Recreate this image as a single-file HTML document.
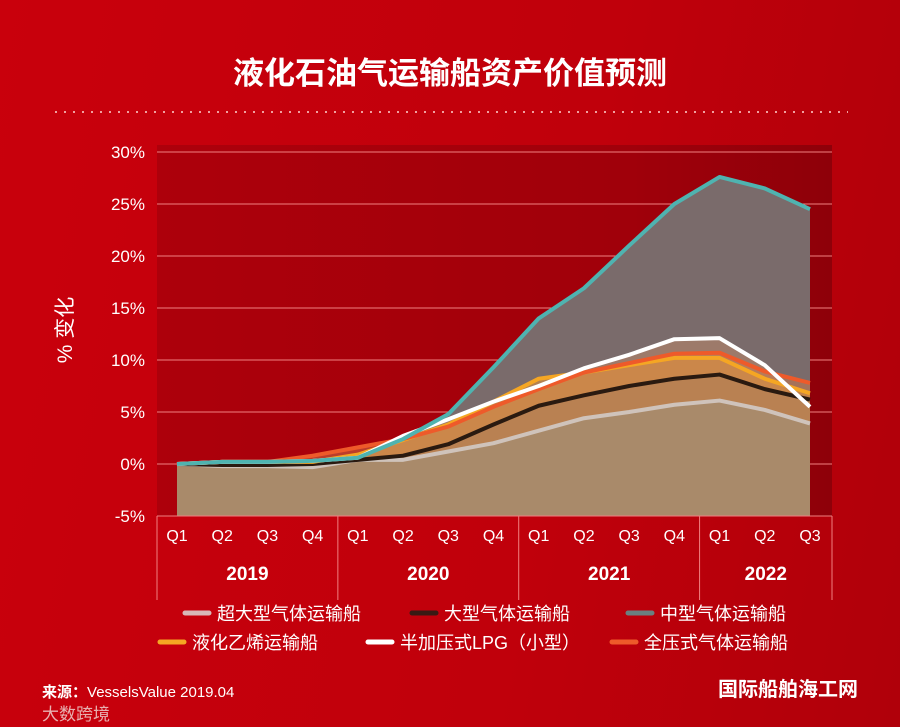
<!DOCTYPE html>
<html><head><meta charset="utf-8"><style>
body{margin:0;width:900px;height:727px;overflow:hidden;background:linear-gradient(100deg,#c9000c 0%,#c0000b 60%,#b0000a 100%);font-family:"Liberation Sans","Noto Sans CJK SC",sans-serif;color:#fff}
</style></head><body>
<svg width="900" height="727" style="position:absolute;left:0;top:0">
<defs><linearGradient id="pbg" x1="0" x2="1"><stop offset="0" stop-color="#ad000b"/><stop offset="0.7" stop-color="#a0000a"/><stop offset="1" stop-color="#8e0009"/></linearGradient></defs>
<text x="450" y="84" text-anchor="middle" font-size="31" font-weight="bold" fill="#fff">液化石油气运输船资产价值预测</text>
<line x1="55" y1="112" x2="848" y2="112" stroke="#f0a0a0" stroke-width="2" stroke-dasharray="2,7"/>
<rect x="157" y="145" width="675" height="371" fill="url(#pbg)"/>
<g id="grid"></g><g id="areas"></g><g id="lines"></g><g id="xaxis"></g>
<text transform="translate(72,330) rotate(-90)" text-anchor="middle" font-size="21" fill="#fff">% 变化</text>
<g id="legend"></g>
<text x="42" y="697" font-size="15" fill="#fff"><tspan font-weight="bold">来源：</tspan>VesselsValue 2019.04</text>
<text x="42" y="720" font-size="17" fill="#e8b0b0">大数跨境</text>
<text x="718" y="696" font-size="20" font-weight="bold" fill="#fff">国际船舶海工网</text>
</svg>
<script>
const quarters=['Q1','Q2','Q3','Q4','Q1','Q2','Q3','Q4','Q1','Q2','Q3','Q4','Q1','Q2','Q3'];
const years=['2019','2020','2021','2022'];
const yTicks=[-5,0,5,10,15,20,25,30];
const vlgc=[0,-0.2,-0.2,-0.3,0.4,0.4,1.2,2,3.2,4.4,5,5.7,6.1,5.2,3.9];
const lgc=[0,-0.1,-0.1,0,0.4,0.8,1.9,3.8,5.6,6.6,7.5,8.2,8.6,7.2,6.2];
const mgc=[0,0.2,0.2,0.3,0.6,2.4,4.8,9.3,14,16.9,21,25,27.6,26.5,24.5];
const ethylene=[0,0.2,0.2,0.2,0.9,2.3,3.8,6,8.2,8.8,9.5,10.2,10.2,8.2,6.8];
const semiref=[0,0.2,0.2,0.3,0.6,2.7,4.3,6,7.5,9.2,10.5,12,12.1,9.5,5.5];
const fullyPress=[0,0.2,0.2,0.8,1.6,2.4,3.6,5.5,7.2,8.8,9.7,10.6,10.7,8.9,7.8];
const NS='http://www.w3.org/2000/svg';
const x=i=>177+i*(810-177)/14;
const y=v=>464-v*10.4;
function mk(t,a,p){const e=document.createElementNS(NS,t);for(const k in a)e.setAttribute(k,a[k]);p.appendChild(e);return e;}
const grid=document.getElementById('grid');
yTicks.forEach(t=>{
 const l=mk('line',{x1:157,x2:832,y1:y(t),y2:y(t),stroke:'#f08080','stroke-width':1},grid);
 
 
 const tx=mk('text',{x:145,y:y(t)+6,'text-anchor':'end','font-size':17,fill:'#fff'},grid);
 tx.textContent=t+'%';
 
 
});
const series=[
 {d:mgc,c:'#4fb3b0',f:'#7a6b6b',fo:1,n:'mgc'},
 {d:semiref,c:'#ffffff',f:'#c08a6a',fo:0.5,n:'semiref'},
 {d:fullyPress,c:'#ee5a2a',f:'#d07a4a',fo:0.5,n:'fully-pressurized'},
 {d:ethylene,c:'#f5a623',f:'#d99040',fo:0.6,n:'ethylene'},
 {d:lgc,c:'#2a1a10',f:'#b07f55',fo:0.7,n:'lgc'},
 {d:vlgc,c:'#cfc3bb',f:'#a98a6a',fo:1,n:'vlgc'}];
const areas=document.getElementById('areas'),lines=document.getElementById('lines');
series.forEach(s=>{
 let pts=s.d.map((v,i)=>x(i)+','+y(v)).join(' ');
 const a=mk('polygon',{points:x(0)+','+y(-5)+' '+pts+' '+x(14)+','+y(-5),fill:s.f,'fill-opacity':s.fo},areas);
 
 
});
series.slice().reverse().forEach(s=>{
 let pts=s.d.map((v,i)=>x(i)+','+y(v)).join(' ');
 const l=mk('polyline',{points:pts,fill:'none',stroke:s.c,'stroke-width':4,'stroke-linejoin':'round'},lines);
 
 
});
const xa=document.getElementById('xaxis');
mk('line',{x1:157,x2:832,y1:516,y2:516,stroke:'#f08080'},xa);
[0,4,8,12].forEach((s,k)=>{
 const lx=k==0?157:x(s)-20;
 const sep=mk('line',{x1:lx,x2:lx,y1:516,y2:600,stroke:'#f08080'},xa);
 
 
 const e=k<3?x(s+3):x(14);
 const yt=mk('text',{x:(lx+(k<3?x(s+4)-20:832))/2,y:580,'text-anchor':'middle','font-size':19,'font-weight':'bold',fill:'#fff'},xa);
 yt.textContent=years[k];
 
 
});
mk('line',{x1:832,x2:832,y1:516,y2:600,stroke:'#f08080'},xa);
quarters.forEach((q,i)=>{
 const t=mk('text',{x:x(i),y:541,'text-anchor':'middle','font-size':16,fill:'#fff'},xa);
 t.textContent=q;
 
 
});
const legendItems=[['超大型气体运输船','#d8b8b8',185,613],['大型气体运输船','#3a1a14',412,613],['中型气体运输船','#6a8080',628,613],['液化乙烯运输船','#f5a623',160,642],['半加压式LPG（小型）','#ffffff',368,642],['全压式气体运输船','#ee5a2a',612,642]];
const lg=document.getElementById('legend');
legendItems.forEach(it=>{
 const g=mk('g',{},lg);
 
 
 mk('line',{x1:it[2],x2:it[2]+24,y1:it[3],y2:it[3],stroke:it[1],'stroke-width':5,'stroke-linecap':'round'},g);
 const t=mk('text',{x:it[2]+32,y:it[3]+7,'font-size':18,fill:'#fff'},g);
 t.textContent=it[0];
});
</script>
</body></html>
